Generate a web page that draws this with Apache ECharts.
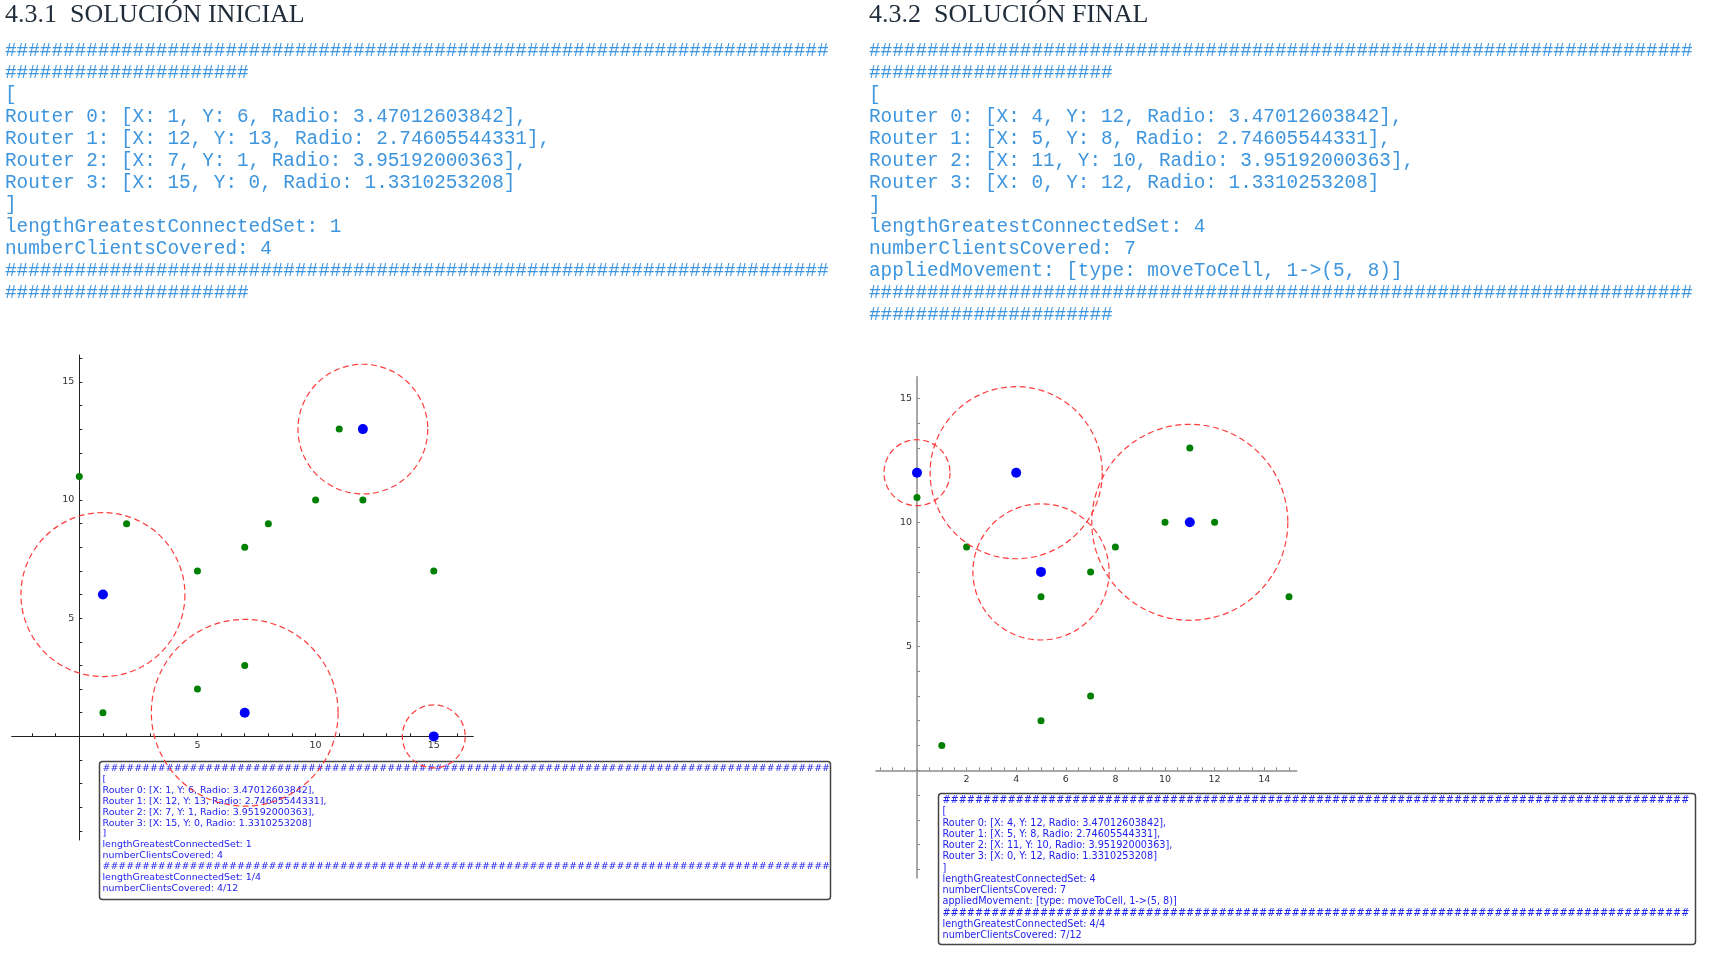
<!DOCTYPE html>
<html>
<head>
<meta charset="utf-8">
<script src="https://cdn.jsdelivr.net/npm/echarts@6/dist/echarts.min.js"></script>
<style>
html,body{margin:0;padding:0;background:#fff;}
#chart{width:1710px;height:962px;}
</style>
</head>
<body>
<div id="chart"></div>
<script>
// ---------------- data ----------------
const clientsX = [0, 2, 5, 7, 8, 10, 11, 12, 15, 7, 5, 1];
const clientsY = [11, 9, 7, 8, 9, 10, 13, 10, 7, 3, 2, 1];
const routerRadii = [3.47012603842, 2.74605544331, 3.95192000363, 1.3310253208];
const initialRoutersX = [1, 12, 7, 15];
const initialRoutersY = [6, 13, 1, 0];
const finalRoutersX = [4, 5, 11, 0];
const finalRoutersY = [12, 8, 10, 12];
const initialStats = { connected: 1, covered: 4 };
const finalStats = { connected: 4, covered: 7 };
const totalRouters = 4;
const totalClients = 12;
const movement = 'moveToCell, 1->(5, 8)';

// tick labels and tick positions
const leftXTickLabels = [5, 10, 15];
const leftYTickLabels = [5, 10, 15];
const leftXTicks = [-2, -1, 0, 1, 2, 3, 4, 5, 6, 7, 8, 9, 10, 11, 12, 13, 14, 15, 16];
const leftYTicks = [-4, -3, -2, -1, 0, 1, 2, 3, 4, 5, 6, 7, 8, 9, 10, 11, 12, 13, 14, 15, 16];
const rightXTickLabels = [2, 4, 6, 8, 10, 12, 14];
const rightYTickLabels = [5, 10, 15];
const rightXTicks = [-1.5, -1, -0.5, 0, 0.5, 1, 1.5, 2, 2.5, 3, 3.5, 4, 4.5, 5, 5.5, 6, 6.5, 7, 7.5, 8, 8.5, 9, 9.5, 10, 10.5, 11, 11.5, 12, 12.5, 13, 13.5, 14, 14.5, 15];
const rightYTicks = [-4, -3, -2, -1, 0, 1, 2, 3, 4, 5, 6, 7, 8, 9, 10, 11, 12, 13, 14, 15];

// ---------------- text ----------------
const HASH = '#'.repeat(92);
function routerLines(xs, ys) {
  return xs.map((x, i) => 'Router ' + i + ': [X: ' + x + ', Y: ' + ys[i] + ', Radio: ' + routerRadii[i] + ']' + (i < xs.length - 1 ? ',' : ''));
}
const leftTop = [HASH.slice(0, 71), HASH.slice(71), '[']
  .concat(routerLines(initialRoutersX, initialRoutersY))
  .concat([']', 'lengthGreatestConnectedSet: ' + initialStats.connected, 'numberClientsCovered: ' + initialStats.covered, HASH.slice(0, 71), HASH.slice(71)]);
const rightTop = [HASH.slice(0, 71), HASH.slice(71), '[']
  .concat(routerLines(finalRoutersX, finalRoutersY))
  .concat([']', 'lengthGreatestConnectedSet: ' + finalStats.connected, 'numberClientsCovered: ' + finalStats.covered, 'appliedMovement: [type: ' + movement + ']', HASH.slice(0, 71), HASH.slice(71)]);
const leftBox = [HASH, '[']
  .concat(routerLines(initialRoutersX, initialRoutersY))
  .concat([']', 'lengthGreatestConnectedSet: ' + initialStats.connected, 'numberClientsCovered: ' + initialStats.covered, HASH,
    'lengthGreatestConnectedSet: ' + initialStats.connected + '/' + totalRouters, 'numberClientsCovered: ' + initialStats.covered + '/' + totalClients]);
const rightBox = [HASH, '[']
  .concat(routerLines(finalRoutersX, finalRoutersY))
  .concat([']', 'lengthGreatestConnectedSet: ' + finalStats.connected, 'numberClientsCovered: ' + finalStats.covered, 'appliedMovement: [type: ' + movement + ']', HASH,
    'lengthGreatestConnectedSet: ' + finalStats.connected + '/' + totalRouters, 'numberClientsCovered: ' + finalStats.covered + '/' + totalClients]);

// ---------------- graphics (text + boxes) ----------------
const MONO = '19.33px "Liberation Mono", "DejaVu Sans Mono", monospace';
const MONO_COLOR = '#3d95de';
const graphics = [];
function addTitle(txt, x) {
  graphics.push({ type: 'text', x: x, y: 15, z: 0,
    style: { text: txt, font: '26px "Liberation Serif", "DejaVu Serif", serif', fill: '#1f2c3a', textVerticalAlign: 'middle' } });
}
addTitle('4.3.1  SOLUCIÓN INICIAL', 5);
addTitle('4.3.2  SOLUCIÓN FINAL', 869);
function addLines(lines, x, y0, dy, font, color) {
  lines.forEach((t, i) => graphics.push({ type: 'text', x: x, y: y0 + dy * i, z: 1,
    style: { text: t, font: font, fill: color, textVerticalAlign: 'middle' } }));
}
addLines(leftTop, 5, 51, 22, MONO, MONO_COLOR);
addLines(rightTop, 869, 51, 22, MONO, MONO_COLOR);
graphics.push({ type: 'rect', z: 0, shape: { x: 99.5, y: 761.5, width: 731, height: 138, r: 3 },
  style: { fill: '#fff', stroke: '#444', lineWidth: 1.5 } });
graphics.push({ type: 'rect', z: 0, shape: { x: 938.5, y: 793.5, width: 757, height: 151, r: 3 },
  style: { fill: '#fff', stroke: '#444', lineWidth: 1.5 } });
addLines(leftBox, 102.5, 768.3, 10.95, '9.45px "DejaVu Sans", sans-serif', '#2222ee');
addLines(rightBox, 942.5, 800.7, 11.25, '9.7px "DejaVu Sans", sans-serif', '#2222ee');

// ---------------- chart ----------------
function xyPairs(xs, ys) { return xs.map((x, i) => [x, ys[i]]); }
function circles(xs, ys) { return xs.map((x, i) => [x, ys[i], routerRadii[i]]); }

function axis(gridIndex, min, max, ticks, labels, color, width, margin, offset) {
  return {
    type: 'value', gridIndex: gridIndex, min: min, max: max, offset: offset,
    axisLine: { show: true, onZero: false, lineStyle: { color: color, width: width } },
    axisTick: { show: true, inside: true, length: 3, customValues: ticks, lineStyle: { color: color, width: 1 } },
    axisLabel: { show: true, customValues: labels, margin: margin, fontSize: 9.5, color: '#333', fontFamily: 'DejaVu Sans' },
    splitLine: { show: false }
  };
}

function circleRender(params, api) {
  const c = api.coord([api.value(0), api.value(1)]);
  const r = api.size([api.value(2), 0])[0];
  return { type: 'circle', shape: { cx: c[0], cy: c[1], r: r },
    style: { fill: 'none', stroke: '#ff3c3c', lineWidth: 1.2, lineDash: [6, 3.5] } };
}

const chart = echarts.init(document.getElementById('chart'), null, { renderer: 'canvas' });
chart.setOption({
  animation: false,
  backgroundColor: '#fff',
  grid: [
    { left: 11.7, top: 355, width: 461.6, height: 485 },
    { left: 876, top: 376.7, width: 420.7, height: 501.3 }
  ],
  xAxis: [
    axis(0, -2.861, 16.673, leftXTicks, leftXTickLabels, '#222', 1, 4, -103.7),
    axis(1, -1.653, 15.31, rightXTicks, rightXTickLabels, '#8a8a8a', 1.5, 4, -107.7)
  ],
  yAxis: [
    axis(0, -4.384, 16.136, leftYTicks, leftYTickLabels, '#222', 1, 5, -67.6),
    axis(1, -4.344, 15.871, rightYTicks, rightYTickLabels, '#8a8a8a', 1.5, 5, -41)
  ],
  graphic: graphics,
  series: [
    { type: 'scatter', xAxisIndex: 0, yAxisIndex: 0, data: xyPairs(clientsX, clientsY), symbolSize: 7, itemStyle: { color: '#008000', opacity: 1 }, z: 3 },
    { type: 'scatter', xAxisIndex: 0, yAxisIndex: 0, data: xyPairs(initialRoutersX, initialRoutersY), symbolSize: 10, itemStyle: { color: '#0000ff', opacity: 1 }, z: 4 },
    { type: 'custom', xAxisIndex: 0, yAxisIndex: 0, data: circles(initialRoutersX, initialRoutersY), renderItem: circleRender, clip: false, z: 5 },
    { type: 'scatter', xAxisIndex: 1, yAxisIndex: 1, data: xyPairs(clientsX, clientsY), symbolSize: 7, itemStyle: { color: '#008000', opacity: 1 }, z: 3 },
    { type: 'scatter', xAxisIndex: 1, yAxisIndex: 1, data: xyPairs(finalRoutersX, finalRoutersY), symbolSize: 10, itemStyle: { color: '#0000ff', opacity: 1 }, z: 4 },
    { type: 'custom', xAxisIndex: 1, yAxisIndex: 1, data: circles(finalRoutersX, finalRoutersY), renderItem: circleRender, clip: false, z: 5 }
  ]
});
</script>
</body>
</html>
